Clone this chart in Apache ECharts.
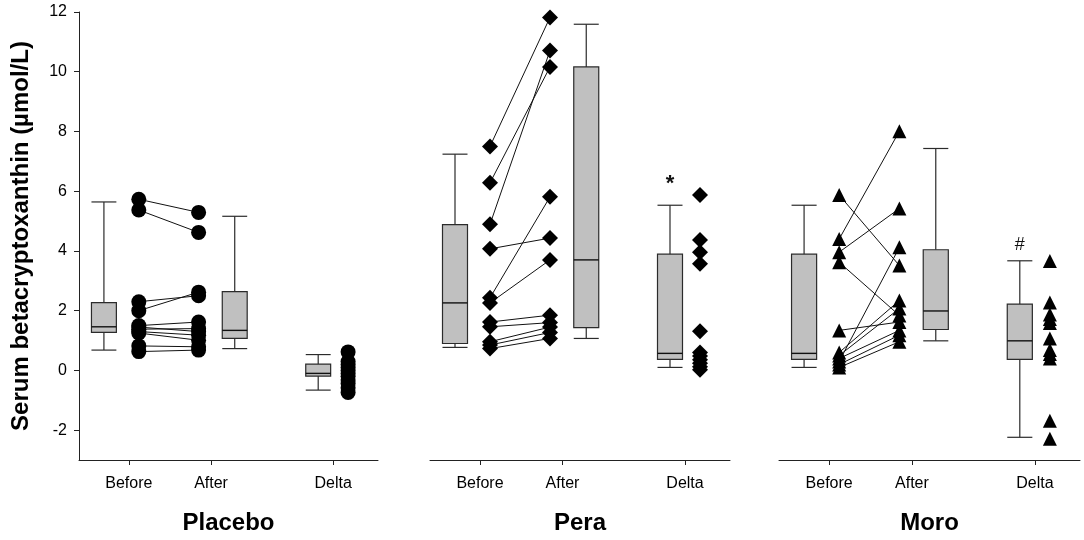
<!DOCTYPE html>
<html>
<head>
<meta charset="utf-8">
<script src="https://cdn.jsdelivr.net/npm/echarts@6/dist/echarts.min.js"></script>
<style>html,body{margin:0;background:#fff}#chart{width:1084px;height:540px}</style>
</head>
<body>
<div id="chart"></div>
<script>
/************************        Serum betacryptoxanthin by group        **************************/
var groups = ['Placebo', 'Pera', 'Moro'];
var tickNames = ['Before', 'After', 'Delta'];
var yTicks = [-2, 0, 2, 4, 6, 8, 10, 12];

// box stats per group: [whisker low, q1, median, q3, whisker high] for Before, After, Delta
var placeboBoxes = [[0.68, 1.27, 1.46, 2.27, 5.64], [0.73, 1.07, 1.34, 2.64, 5.16], [-0.66, -0.19, -0.1, 0.21, 0.53]];
var peraBoxes    = [[0.77, 0.9, 2.26, 4.88, 7.24], [1.07, 1.43, 3.7, 10.16, 11.59], [0.1, 0.37, 0.57, 3.89, 5.53]];
var moroBoxes    = [[0.1, 0.37, 0.57, 3.89, 5.53], [0.99, 1.37, 1.99, 4.04, 7.43], [-2.24, 0.37, 0.99, 2.22, 3.67]];

// individual subjects
var placeboBefore = [5.73, 5.37, 2.3, 2.0, 1.5, 1.45, 1.38, 1.3, 1.25, 0.82, 0.63];
var placeboAfter  = [5.29, 4.62, 2.5, 2.62, 1.62, 1.3, 1.4, 1.18, 1.01, 0.79, 0.68];
var placeboDelta  = [0.62, 0.3, 0.2, 0.1, 0.0, -0.1, -0.2, -0.32, -0.44, -0.58, -0.74];

var peraBefore = [7.5, 6.28, 4.89, 4.07, 2.43, 2.26, 1.62, 1.46, 0.96, 0.85, 0.73];
var peraAfter  = [11.82, 10.16, 10.71, 4.43, 5.81, 3.7, 1.85, 1.6, 1.45, 1.27, 1.07];
var peraDelta  = [5.87, 4.37, 3.96, 3.57, 1.31, 0.6, 0.48, 0.36, 0.24, 0.12, 0.02];

var moroBefore = [5.87, 4.4, 3.96, 3.62, 1.34, 0.6, 0.5, 0.4, 0.3, 0.2, 0.1];
var moroAfter  = [3.51, 8.01, 5.42, 1.84, 1.62, 2.34, 2.07, 1.34, 4.12, 1.18, 0.96];
var moroDelta  = [3.66, 2.27, 1.87, 1.72, 1.59, 1.07, 0.68, 0.55, 0.4, -1.69, -2.29];

var marks = ['', '*', '#'];
var markY = [null, 6.23, 4.2];

var boxes = [placeboBoxes, peraBoxes, moroBoxes];
var befores = [placeboBefore, peraBefore, moroBefore];
var afters = [placeboAfter, peraAfter, moroAfter];
var deltas = [placeboDelta, peraDelta, moroDelta];
var symbols = ['circle', 'diamond', 'triangle'];
var symbolSizes = [15, 16, 14];

// layout along each panel's x axis (0..12)
var boxX = [1, 6.25, 9.6];
var beforeX = 2.4, afterX = 4.8, deltaX = 10.8;
var tickX = [2, 5.3, 10.2];
var panelLeft = [79, 430, 779];
var panelWidth = [299, 300, 301];

var font = 'Liberation Sans, Arial, sans-serif';

var dom = document.getElementById('chart');
var myChart = echarts.init(dom);

function renderBox(params, api) {
    var x = api.value(0);
    var lo = api.coord([x, api.value(1)]);
    var q1 = api.coord([x, api.value(2)]);
    var md = api.coord([x, api.value(3)]);
    var q3 = api.coord([x, api.value(4)]);
    var hi = api.coord([x, api.value(5)]);
    var half = api.size([1, 0])[0] / 2;
    var cx = lo[0];
    var line = {stroke: '#2b2b2b', lineWidth: 1.2};
    return {
        type: 'group',
        children: [
            {type: 'line', shape: {x1: cx, y1: lo[1], x2: cx, y2: q1[1]}, style: line},
            {type: 'line', shape: {x1: cx, y1: q3[1], x2: cx, y2: hi[1]}, style: line},
            {type: 'line', shape: {x1: cx - half, y1: lo[1], x2: cx + half, y2: lo[1]}, style: line},
            {type: 'line', shape: {x1: cx - half, y1: hi[1], x2: cx + half, y2: hi[1]}, style: line},
            {type: 'rect', shape: {x: cx - half, y: q3[1], width: half * 2, height: q1[1] - q3[1]},
                style: {fill: '#c0c0c0', stroke: '#2b2b2b', lineWidth: 1.2}},
            {type: 'line', shape: {x1: cx - half, y1: md[1], x2: cx + half, y2: md[1]}, style: {stroke: '#111', lineWidth: 1.4}}
        ]
    };
}

function renderPair(params, api) {
    var a = api.coord([beforeX, api.value(0)]);
    var b = api.coord([afterX, api.value(1)]);
    return {type: 'line', shape: {x1: a[0], y1: a[1], x2: b[0], y2: b[1]}, style: {stroke: '#111', lineWidth: 1}};
}

function renderMark(params, api) {
    var p = api.coord([api.value(0), api.value(1)]);
    var t = marks[api.value(2)];
    return {type: 'text', x: p[0], y: p[1],
        style: {text: t, align: 'center', verticalAlign: 'middle',
            font: (t === '*' ? 'bold 22px ' : '18px ') + font, fill: '#111'}};
}

var grid = [], xAxis = [], yAxis = [], series = [];
for (var i = 0; i < 3; i++) {
    grid.push({left: panelLeft[i], width: panelWidth[i], top: 12, bottom: 78});
    xAxis.push({
        gridIndex: i, type: 'value', min: 0, max: 12,
        name: groups[i], nameLocation: 'middle', nameGap: 51,
        nameTextStyle: {fontFamily: font, fontSize: 24, fontWeight: 'bold', color: '#000'},
        axisLine: {onZero: false, lineStyle: {color: '#222', width: 1}},
        axisTick: {show: true, customValues: tickX, length: 5, lineStyle: {color: '#222'}},
        axisLabel: {
            customValues: tickX, margin: 16, fontFamily: font, fontSize: 16, color: '#000',
            formatter: function (v) {
                for (var k = 0; k < tickX.length; k++) {
                    if (Math.abs(tickX[k] - v) < 0.01) return tickNames[k];
                }
                return '';
            }
        },
        splitLine: {show: false}
    });
    yAxis.push({
        gridIndex: i, type: 'value', min: -3, max: 12,
        name: i === 0 ? 'Serum betacryptoxanthin (\u00b5mol/L)' : '',
        nameLocation: 'middle', nameGap: 46,
        nameTextStyle: {fontFamily: font, fontSize: 24, fontWeight: 'bold', color: '#000'},
        axisLine: {show: i === 0, onZero: false, lineStyle: {color: '#222', width: 1}},
        axisTick: {show: i === 0, customValues: yTicks, length: 5, lineStyle: {color: '#222'}},
        axisLabel: {show: i === 0, customValues: yTicks, margin: 12, fontFamily: font, fontSize: 16, color: '#000'},
        splitLine: {show: false}
    });

    var boxData = boxes[i].map(function (b, k) { return [boxX[k]].concat(b); });
    series.push({type: 'custom', xAxisIndex: i, yAxisIndex: i, renderItem: renderBox, data: boxData, z: 2, silent: true});

    var pairs = befores[i].map(function (v, k) { return [v, afters[i][k]]; });
    series.push({type: 'custom', xAxisIndex: i, yAxisIndex: i, renderItem: renderPair, data: pairs, z: 3, silent: true,
        encode: {x: -1, y: [0, 1]}});

    var pts = befores[i].map(function (v) { return [beforeX, v]; })
        .concat(afters[i].map(function (v) { return [afterX, v]; }))
        .concat(deltas[i].map(function (v) { return [deltaX, v]; }));
    series.push({type: 'scatter', xAxisIndex: i, yAxisIndex: i, data: pts, symbol: symbols[i],
        symbolSize: symbolSizes[i], itemStyle: {color: '#000', opacity: 1}, z: 4, silent: true});

    if (marks[i]) {
        series.push({type: 'custom', xAxisIndex: i, yAxisIndex: i, renderItem: renderMark,
            data: [[boxX[2], markY[i], i]], z: 5, silent: true});
    }
}

var option = {
    animation: false,
    grid: grid,
    xAxis: xAxis,
    yAxis: yAxis,
    series: series
};

myChart.setOption(option);
</script>
</body>
</html>
